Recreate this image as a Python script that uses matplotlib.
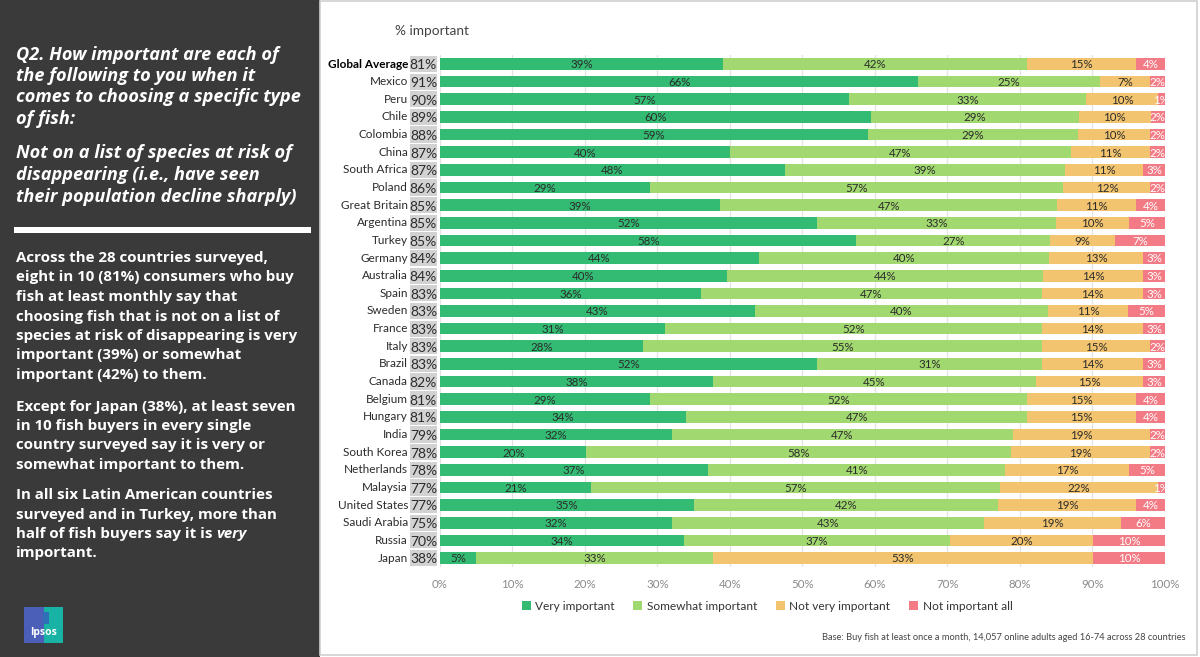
import matplotlib
matplotlib.use("Agg")
import matplotlib.pyplot as plt
from matplotlib.patches import Rectangle
from matplotlib.transforms import blended_transform_factory
import numpy as np

countries = ["Global Average", "Mexico", "Peru", "Chile", "Colombia", "China", "South Africa",
             "Poland", "Great Britain", "Argentina", "Turkey", "Germany", "Australia", "Spain",
             "Sweden", "France", "Italy", "Brazil", "Canada", "Belgium", "Hungary", "India",
             "South Korea", "Netherlands", "Malaysia", "United States", "Saudi Arabia", "Russia", "Japan"]
pct_important = [81, 91, 90, 89, 88, 87, 87, 86, 85, 85, 85, 84, 84, 83, 83, 83, 83, 83, 82, 81,
                 81, 79, 78, 78, 77, 77, 75, 70, 38]
very_important = [39, 66, 57, 60, 59, 40, 48, 29, 39, 52, 58, 44, 40, 36, 43, 31, 28, 52, 38, 29,
                  34, 32, 20, 37, 21, 35, 32, 34, 5]
somewhat_important = [42, 25, 33, 29, 29, 47, 39, 57, 47, 33, 27, 40, 44, 47, 40, 52, 55, 31, 45, 52,
                      47, 47, 58, 41, 57, 42, 43, 37, 33]
not_very_important = [15, 7, 10, 10, 10, 11, 11, 12, 11, 10, 9, 13, 14, 14, 11, 14, 15, 14, 15, 15,
                      15, 19, 19, 17, 22, 19, 19, 20, 53]
not_important_all = [4, 2, 1, 2, 2, 2, 3, 2, 4, 5, 7, 3, 3, 3, 5, 3, 2, 3, 3, 4,
                     4, 2, 2, 5, 1, 4, 6, 10, 10]
series_names = ["Very important", "Somewhat important", "Not very important", "Not important all"]
x_ticks = [0, 10, 20, 30, 40, 50, 60, 70, 80, 90, 100]

colors = ["#33bb73", "#a1d870", "#f3c46f", "#f27b85"]
label_colors = ["#2b2b2b", "#2b2b2b", "#2b2b2b", "white"]

W, H = 1200, 657
fig = plt.figure(figsize=(W / 100, H / 100), dpi=100)
fig.patch.set_facecolor("white")

def fx(px):
    return px / W

def fy(py):
    return 1 - py / H

# Left dark panel
fig.patches.append(Rectangle((0, 0), fx(320), 1, transform=fig.transFigure,
                             facecolor="#3a3a3a", edgecolor="none", zorder=0))
# Right panel border
fig.patches.append(Rectangle((fx(320), fy(655)), fx(1197 - 320), fy(1) - fy(655),
                             transform=fig.transFigure, facecolor="none",
                             edgecolor="#cfcfcf", linewidth=1.2, zorder=0))

panel_font = "Open Sans"
title_lines = ["Q2. How important are each of", "the following to you when it",
               "comes to choosing a specific type", "of fish:"]
title2_lines = ["Not on a list of species at risk of", "disappearing (i.e., have seen",
                "their population decline sharply)"]
for t, y in zip(title_lines, [55, 76, 97, 119]):
    fig.text(fx(16), fy(y), t, color="white", fontsize=13.1, fontweight="bold",
             fontstyle="italic", family=panel_font, va="center", ha="left")
for t, y in zip(title2_lines, [153, 175, 197]):
    fig.text(fx(16), fy(y), t, color="white", fontsize=13.1, fontweight="bold",
             fontstyle="italic", family=panel_font, va="center", ha="left")

fig.patches.append(Rectangle((fx(14), fy(233)), fx(311 - 14), fy(227) - fy(233),
                             transform=fig.transFigure, facecolor="white", edgecolor="none"))

body = [("Across the 28 countries surveyed,", 258),
        ("eight in 10 (81%) consumers who buy", 277),
        ("fish at least monthly say that", 297),
        ("choosing fish that is not on a list of", 317),
        ("species at risk of disappearing is very", 336),
        ("important (39%) or somewhat", 355),
        ("important (42%) to them.", 375),
        ("Except for Japan (38%), at least seven", 407),
        ("in 10 fish buyers in every single", 426),
        ("country surveyed say it is very or", 445),
        ("somewhat important to them.", 465),
        ("In all six Latin American countries", 495),
        ("surveyed and in Turkey, more than", 515)]
bfs = 10.9
for t, y in body:
    fig.text(fx(16), fy(y), t, color="white", fontsize=bfs, fontweight="bold",
             family=panel_font, va="center", ha="left")

t1 = fig.text(fx(16), fy(534), "half of fish buyers say it is ", color="white", fontsize=bfs,
              fontweight="bold", family=panel_font, va="center", ha="left")
renderer = fig.canvas.get_renderer()
bb = t1.get_window_extent(renderer=renderer)
fig.text(bb.x1 / fig.bbox.width, fy(534), "very", color="white", fontsize=bfs,
         fontweight="bold", fontstyle="italic", family=panel_font, va="center", ha="left")
fig.text(fx(16), fy(553), "important.", color="white", fontsize=bfs, fontweight="bold",
         family=panel_font, va="center", ha="left")

# Ipsos logo
fig.patches.append(Rectangle((fx(24), fy(643)), fx(20), fy(607) - fy(643),
                             transform=fig.transFigure, facecolor="#4b5fb8", edgecolor="none"))
fig.patches.append(Rectangle((fx(44), fy(643)), fx(19), fy(607) - fy(643),
                             transform=fig.transFigure, facecolor="#19b3a5", edgecolor="none"))
fig.patches.append(Rectangle((fx(43), fy(624)), fx(6), fy(612) - fy(624),
                             transform=fig.transFigure, facecolor="#2f6fb8", edgecolor="none"))
fig.text(fx(43.5), fy(633), "Ipsos", color="white", fontsize=7.5, family="Open Sans",
         ha="center", va="center", fontweight="bold")

# Chart axes
row_sp = (558 - 64) / 28
ax_top = 64 - row_sp / 2
ax_bot = 558 + row_sp / 2
ax = fig.add_axes([fx(440), fy(ax_bot), fx(1165 - 440), fy(ax_top) - fy(ax_bot)])
ax.set_facecolor("none")

chart_font = "Lato"
n = len(countries)
ypos = np.arange(n)
data = np.array([very_important, somewhat_important, not_very_important, not_important_all], dtype=float)
scaled = data / data.sum(axis=0) * 100
left = np.zeros(n)
handles = []
for i in range(4):
    h = ax.barh(ypos, scaled[i], left=left, height=0.66, color=colors[i],
                label=series_names[i], zorder=2)
    handles.append(h)
    for j in range(n):
        cx = left[j] + scaled[i][j] / 2
        ax.text(cx, ypos[j] + 0.05, f"{int(data[i][j])}%", ha="center", va="center",
                fontsize=8.3, color=label_colors[i], family=chart_font, zorder=3,
                clip_on=False)
    left += scaled[i]

ax.set_xlim(0, 100)
ax.set_ylim(n - 0.5, -0.5)
ax.set_xticks(x_ticks)
ax.set_xticklabels([f"{v}%" for v in x_ticks], fontsize=8.3, color="#8a8a8a", family=chart_font)
ax.tick_params(axis="x", length=0, pad=9)
ax.set_yticks([])
for s in ax.spines.values():
    s.set_visible(False)
ax.grid(axis="x", color="#e3e3e3", linewidth=0.9, zorder=0)
ax.set_axisbelow(True)

tr = blended_transform_factory(ax.transAxes, ax.transData)
bx0 = (410 - 440) / 725
bw = 27 / 725
for j in range(n):
    ax.add_patch(Rectangle((bx0, ypos[j] - 0.46), bw, 0.92, transform=tr,
                           facecolor="#d2d2d2", edgecolor="none", clip_on=False))
    ax.text(bx0 + bw / 2, ypos[j] + 0.08, f"{pct_important[j]}%", transform=tr,
            ha="center", va="center", fontsize=10, color="#2b2b2b", family=chart_font,
            clip_on=False)
    ax.text((408 - 440) / 725, ypos[j], countries[j], transform=tr, ha="right", va="center",
            fontsize=8.5, color="#000000" if j == 0 else "#2b2b2b", family=chart_font,
            fontweight="bold" if j == 0 else "normal", clip_on=False)

fig.text(fx(395), fy(31), "% important", fontsize=9.8, color="#444444", family=chart_font,
         ha="left", va="center")

fig.legend(handles=handles, labels=series_names, loc="center", bbox_to_anchor=(fx(767), fy(606)),
           ncol=4, frameon=False, handlelength=0.75, handleheight=0.75, handletextpad=0.35,
           columnspacing=1.6, prop={"family": chart_font, "size": 8.6}, labelcolor="#333333")

fig.text(fx(1186), fy(638), "Base: Buy fish at least once a month, 14,057 online adults aged 16-74 across 28 countries",
         fontsize=6.7, color="#444444", family=chart_font, ha="right", va="center")

fig.savefig("out.png", dpi=100)
